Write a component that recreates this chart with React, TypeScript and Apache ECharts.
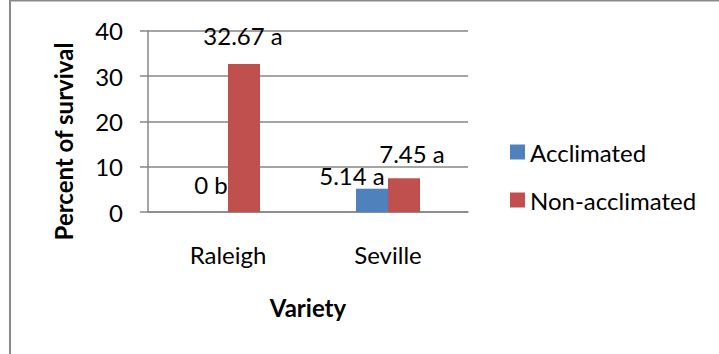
import React, { useEffect, useRef } from "react";
import * as echarts from "echarts";

// Survival data by variety and treatment
const varieties = ["Raleigh", "Seville"];
const acclimated = [0, 5.14];
const nonAcclimated = [32.67, 7.45];
const acclimatedLetters = ["b", "a"];
const nonAcclimatedLetters = ["a", "a"];
const seriesNames = ["Acclimated", "Non-acclimated"];
const yTicks = { min: 0, max: 40, interval: 10 };

// Hand-placed nudges for the value labels [dx, dy]
const acclimatedLabelOffsets = [[-1, -11], [-20, 4]];
const nonAcclimatedLabelOffsets = [[-1, -11], [8, -8]];

const FONT = "Lato, 'Open Sans', sans-serif";
const GRID = "#878787";

function buildSeries(
  name: string,
  values: number[],
  letters: string[],
  offsets: number[][],
  color: string
) {
  return {
    name,
    type: "bar",
    barGap: "0%",
    barCategoryGap: "60%",
    itemStyle: { color },
    data: values.map((v, i) => ({
      value: v,
      label: {
        show: true,
        position: "top",
        offset: offsets[i],
        formatter: `${v} ${letters[i]}`,
        fontFamily: FONT,
        fontSize: 24,
        color: "#000",
      },
    })),
  };
}

export default function App() {
  const ref = useRef<HTMLDivElement>(null);

  useEffect(() => {
    if (!ref.current) return;
    const chart = echarts.init(ref.current, undefined, { renderer: "svg" });
    chart.setOption({
      animation: false,
      backgroundColor: "#fff",
      grid: { left: 148, right: 251, top: 30.7, bottom: 142 },
      legend: {
        orient: "vertical",
        left: 505,
        top: 135,
        itemWidth: 15,
        itemHeight: 15,
        itemGap: 24,
        icon: "rect",
        textStyle: { fontFamily: FONT, fontSize: 24, color: "#000" },
        data: seriesNames,
      },
      xAxis: {
        type: "category",
        data: varieties,
        name: "Variety",
        nameLocation: "middle",
        nameGap: 83,
        nameTextStyle: { fontFamily: FONT, fontSize: 24, fontWeight: "bold", color: "#000" },
        axisLine: { lineStyle: { color: GRID, width: 1.5 } },
        axisTick: { show: false },
        axisLabel: { fontFamily: FONT, fontSize: 24, color: "#000", margin: 30 },
      },
      yAxis: {
        type: "value",
        min: yTicks.min,
        max: yTicks.max,
        interval: yTicks.interval,
        axisLine: { show: true, lineStyle: { color: GRID, width: 1.5 } },
        axisTick: { show: true, length: 8, lineStyle: { color: GRID, width: 1.5 } },
        splitLine: { lineStyle: { color: GRID, width: 1.5 } },
        axisLabel: { fontFamily: FONT, fontSize: 24, color: "#000", margin: 25 },
      },
      graphic: [
        {
          type: "text",
          x: 63,
          y: 141.5,
          rotation: Math.PI / 2,
          style: {
            text: "Percent of survival",
            fontFamily: FONT,
            fontSize: 24,
            fontWeight: "bold",
            fill: "#000",
            textAlign: "center",
            textVerticalAlign: "middle",
          },
        },
        {
          type: "line",
          shape: { x1: 10, y1: 0, x2: 10, y2: 354 },
          style: { stroke: "#898989", lineWidth: 2 },
        },
        {
          type: "line",
          shape: { x1: 9, y1: 0.75, x2: 719, y2: 0.75 },
          style: { stroke: "#898989", lineWidth: 1.5 },
        },
      ],
      series: [
        buildSeries(seriesNames[0], acclimated, acclimatedLetters, acclimatedLabelOffsets, "#4F81BD"),
        buildSeries(seriesNames[1], nonAcclimated, nonAcclimatedLetters, nonAcclimatedLabelOffsets, "#C0504D"),
      ],
    });
    return () => chart.dispose();
  }, []);

  return (
    <div
      ref={ref}
      style={{ position: "fixed", left: 0, top: 0, width: 719, height: 354 }}
    />
  );
}
